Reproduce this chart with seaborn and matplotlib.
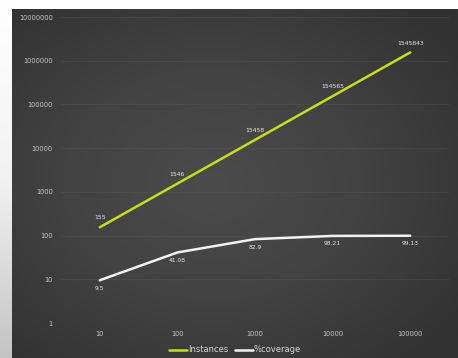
import numpy as np
import pandas as pd
import matplotlib
matplotlib.use("Agg")
import matplotlib.pyplot as plt
import seaborn as sns

# ---- data ----
categories = ["10", "100", "1000", "10000", "100000"]
instances = [155, 1546, 15458, 154565, 1545843]
coverage = [9.5, 41.08, 82.9, 98.21, 99.13]
series_names = ["Instances", "%coverage"]
ytick_values = [1, 10, 100, 1000, 10000, 100000, 1000000, 10000000]

sns.set_theme(style="dark")
plt.rcParams['font.family'] = ['DejaVu Sans']

W, H = 458, 358
fig = plt.figure(figsize=(W / 100, H / 100), dpi=100)
fig.patch.set_facecolor("white")

# left light strip (gradient white->gray)
ax_strip = fig.add_axes([0, 0, 12 / W, 1])
grad = np.linspace(0, 1, 200).reshape(-1, 1)
ax_strip.imshow(grad, aspect="auto", cmap=matplotlib.colors.LinearSegmentedColormap.from_list(
    "s", ["#c4c4c4", "#f2f2f2", "#ffffff"]), extent=[0, 1, 0, 1], origin="lower")
ax_strip.axis("off")

# dark chart area background with radial gradient
ax_bg = fig.add_axes([12 / W, 0, 1 - 12 / W, (H - 9) / H])
yy, xx = np.mgrid[0:1:300j, 0:1:400j]
r = np.sqrt(((xx - 0.45) / 0.9) ** 2 + ((yy - 0.5) / 0.9) ** 2)
cmap_bg = matplotlib.colors.LinearSegmentedColormap.from_list("bg", ["#4b4b4b", "#424242", "#323232"])
ax_bg.imshow(r, cmap=cmap_bg, aspect="auto", extent=[0, 1, 0, 1], origin="lower", vmin=0, vmax=0.75)
ax_bg.axis("off")

# plot axes
left, right = 61 / W, 449 / W
bottom, top = (H - 323) / H, (H - 17) / H
ax = fig.add_axes([left, bottom, right - left, top - bottom])
ax.patch.set_alpha(0)

x = np.arange(len(categories))
df = pd.DataFrame({
    "x": np.concatenate([x, x]),
    "value": instances + coverage,
    "series": [series_names[0]] * len(x) + [series_names[1]] * len(x),
})
sns.lineplot(data=df, x="x", y="value", hue="series", hue_order=series_names,
             palette={"Instances": "#c9dc1e", "%coverage": "#f2f2f2"},
             linewidth=1.8, ax=ax, legend=True, sort=False)

ax.set_yscale("log")
ax.set_ylim(1, 10000000)
ax.set_xlim(-0.5, len(categories) - 0.5)
ax.set_yticks(ytick_values)
ax.set_yticklabels([str(v) for v in ytick_values])
ax.minorticks_off()
ax.set_xticks(x)
ax.set_xticklabels(categories)
ax.tick_params(axis="both", colors="#c8c8c8", labelsize=4.8, length=0)
ax.tick_params(axis="x", pad=6)
ax.tick_params(axis="y", pad=6)
ax.set_xlabel("")
ax.set_ylabel("")
for s in ax.spines.values():
    s.set_visible(False)
ax.grid(axis="y", color="#5a5a5a", linewidth=0.5, alpha=0.5)
ax.grid(axis="x", visible=False)

# data labels
for xi, v in zip(x, instances):
    ax.annotate(f"{v}", (xi, v), xytext=(0, 5), textcoords="offset points",
                ha="center", va="bottom", fontsize=4.3, color="#e8e8e8")
for xi, v in zip(x, coverage):
    ax.annotate(f"{v:g}", (xi, v), xytext=(0, -4), textcoords="offset points",
                ha="center", va="top", fontsize=4.3, color="#e8e8e8")

leg = ax.legend(loc="center", bbox_to_anchor=(235 / W, (H - 350) / H), bbox_transform=fig.transFigure,
                ncol=2, frameon=False, fontsize=6, handlelength=2.2, handletextpad=0.1,
                columnspacing=0.8)
for t in leg.get_texts():
    t.set_color("#d8d8d8")

fig.savefig("out.png", dpi=100)
